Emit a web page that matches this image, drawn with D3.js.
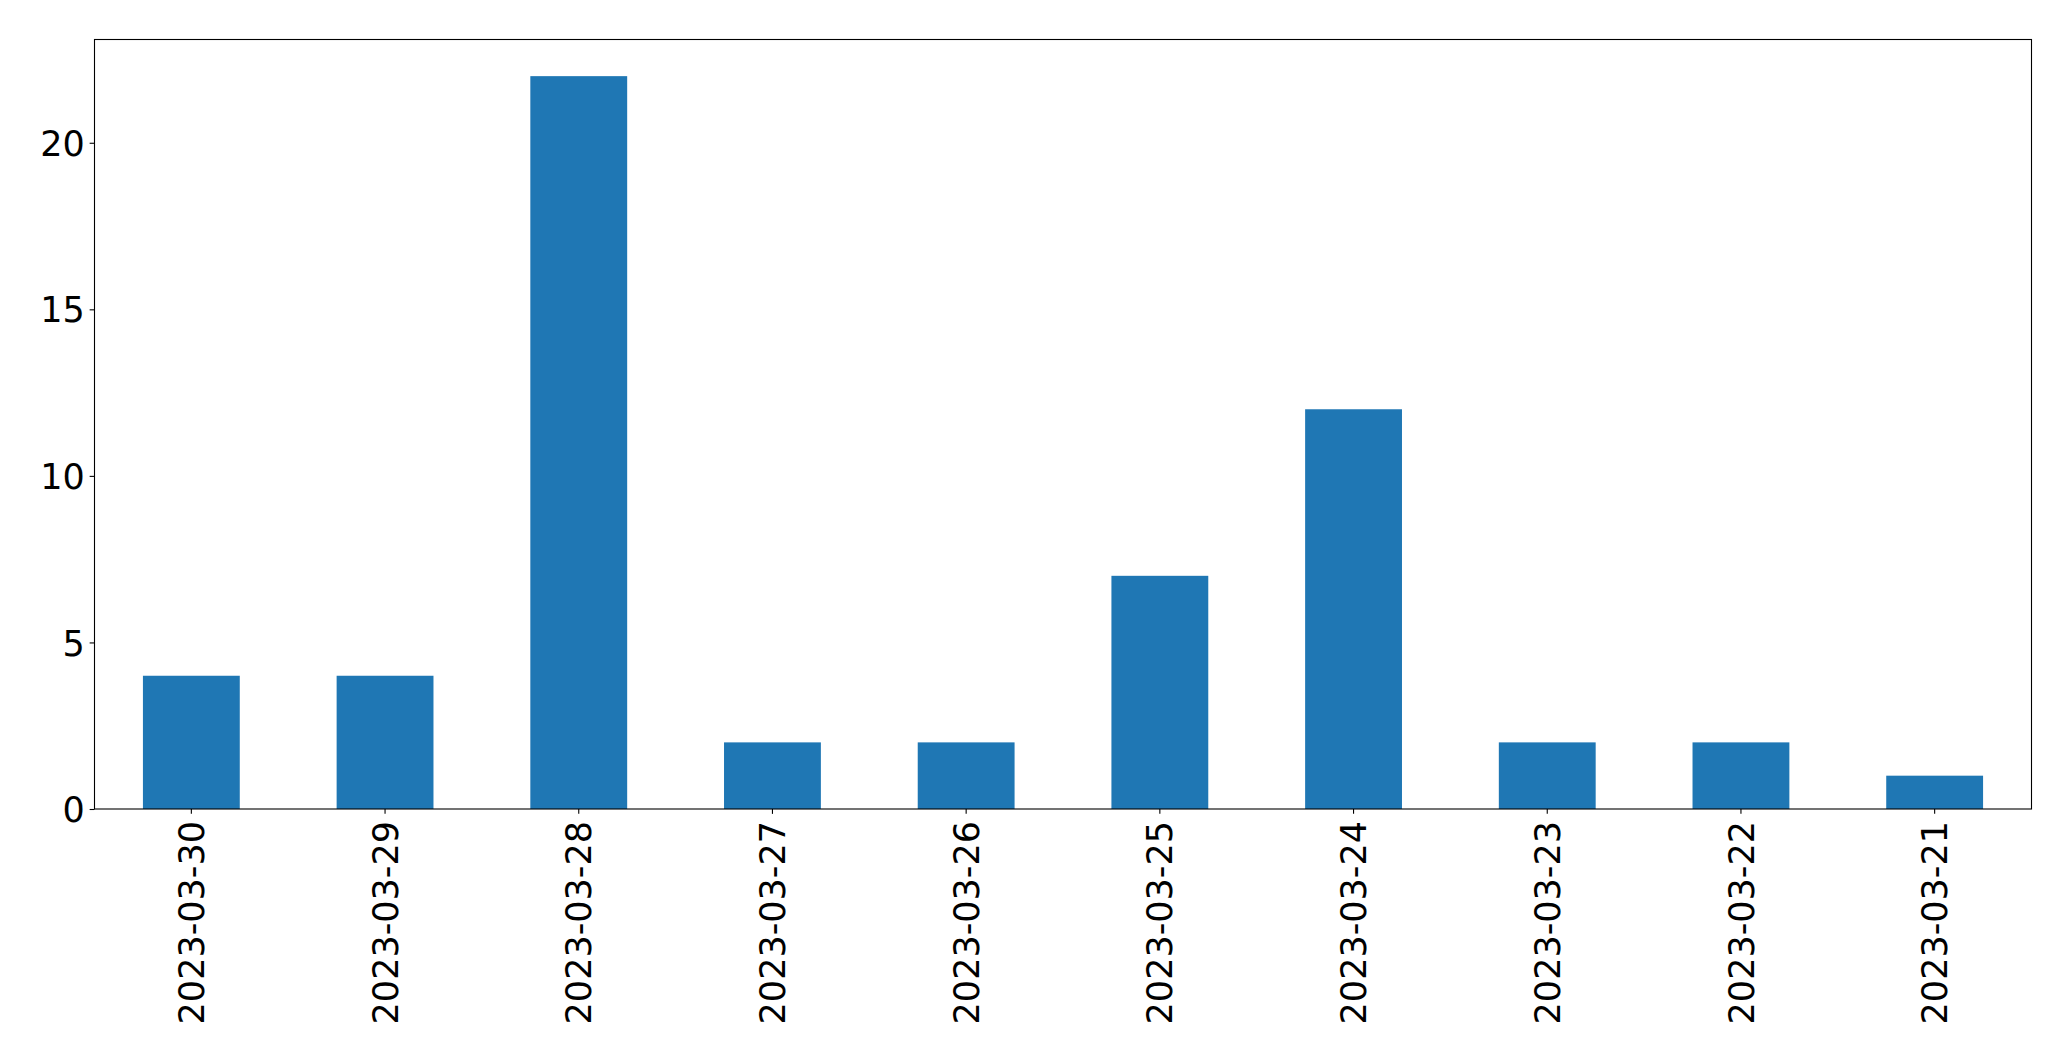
<!DOCTYPE html>
<html>
<head>
<meta charset="utf-8">
<script src="https://cdn.jsdelivr.net/npm/d3@7"></script>
<style>
html,body{margin:0;padding:0;background:#fff;}
svg{display:block;}
text{font-family:"DejaVu Sans",sans-serif;fill:#000;}
</style>
</head>
<body>
<svg id="chart" width="2071" height="1061"></svg>
<script>
const categories = ["2023-03-30","2023-03-29","2023-03-28","2023-03-27","2023-03-26","2023-03-25","2023-03-24","2023-03-23","2023-03-22","2023-03-21"];
const values = [4, 4, 22, 2, 2, 7, 12, 2, 2, 1];
const yTicks = [0, 5, 10, 15, 20];

const W = 2071, H = 1061;
const m = {left: 94.5, right: 2031.5, top: 39.5, bottom: 809};
const svg = d3.select("#chart");

const x = d3.scaleBand().domain(categories).range([m.left, m.right]).paddingInner(0.5).paddingOuter(0.25);
const y = d3.scaleLinear().domain([0, d3.max(values) * 1.05]).range([m.bottom, m.top]);

svg.append("g").selectAll("rect").data(values).join("rect")
  .attr("x", (d, i) => x(categories[i]))
  .attr("width", x.bandwidth())
  .attr("y", d => y(d))
  .attr("height", d => y(0) - y(d))
  .attr("fill", "#1f77b4");

const fs = 35;
const yAxis = svg.append("g").attr("transform", `translate(${m.left},0)`)
  .call(d3.axisLeft(y).tickValues(yTicks).tickSize(4.86).tickPadding(4.86).tickFormat(d3.format("d")));
yAxis.select(".domain").remove();
yAxis.selectAll("line").attr("stroke", "#000").attr("stroke-width", 1.1);
yAxis.selectAll("text").style("font-size", fs + "px").attr("dy", "0.36em");

const xAxis = svg.append("g").attr("transform", `translate(0,${m.bottom})`)
  .call(d3.axisBottom(x).tickSize(4.86).tickPadding(4.86));
xAxis.select(".domain").remove();
xAxis.selectAll("line").attr("stroke", "#000").attr("stroke-width", 1.1);
xAxis.selectAll("text")
  .style("font-size", fs + "px")
  .attr("text-anchor", "end")
  .attr("transform", "rotate(-90)")
  .attr("x", -12)
  .attr("y", 0)
  .attr("dy", "0.36em");

svg.append("rect")
  .attr("x", m.left).attr("y", m.top)
  .attr("width", m.right - m.left).attr("height", m.bottom - m.top)
  .attr("fill", "none").attr("stroke", "#000").attr("stroke-width", 1.1);
</script>
</body>
</html>
